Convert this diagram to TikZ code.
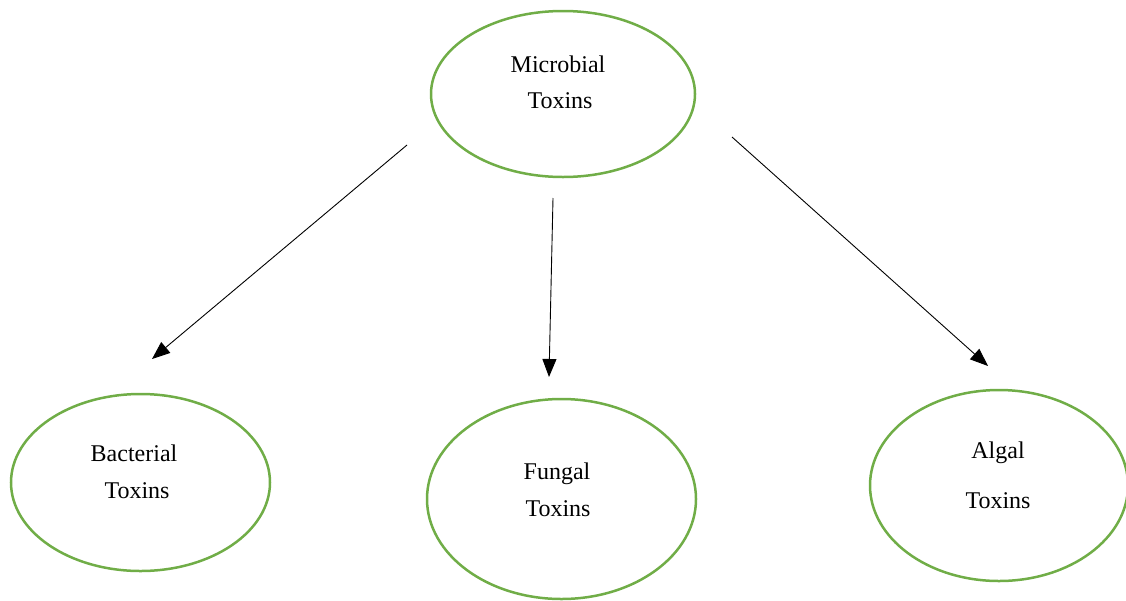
\documentclass[tikz,border=0pt]{standalone}
\usepackage{fontspec}
\setmainfont{Liberation Serif}
\usetikzlibrary{shapes.geometric,arrows.meta}
\definecolor{ellgreen}{HTML}{70AD47}
\begin{document}
\begin{tikzpicture}[x=1pt,y=-1pt,
  oval/.style={ellipse,draw=ellgreen,line width=2.5pt,inner sep=0pt},
  lbl/.style={anchor=base,inner sep=0pt,font=\fontsize{24}{29}\selectfont},
  arr/.style={line width=0.9pt,-{Triangle[length=18pt,width=14pt]}}]
\useasboundingbox (0,0) rectangle (1126,600);
\node[oval,minimum width=264pt,minimum height=166pt] (micro) at (563,94) {};
\node[oval,minimum width=259pt,minimum height=177pt] (bact) at (140.5,482.5) {};
\node[oval,minimum width=269pt,minimum height=200pt] (fung) at (561.5,499) {};
\node[oval,minimum width=258pt,minimum height=191pt] (alg) at (999,485.5) {};
\node[lbl] (t1) at (558,72) {Microbial};
\node[lbl] (t2) at (560,108) {Toxins};
\node[lbl] (t3) at (134,461) {Bacterial};
\node[lbl] (t4) at (137,498) {Toxins};
\node[lbl] (t5) at (557,479) {Fungal};
\node[lbl] (t6) at (558,516) {Toxins};
\node[lbl] (t7) at (998,458) {Algal};
\node[lbl] (t8) at (998,508) {Toxins};
\coordinate (a1s) at (407,145);
\coordinate (a1e) at (152,359);
\coordinate (a2s) at (553,198);
\coordinate (a2e) at (549,377);
\coordinate (a3s) at (732,137);
\coordinate (a3e) at (988,366);
\draw[arr] (a1s) -- (a1e);
\draw[arr] (a2s) -- (a2e);
\draw[arr] (a3s) -- (a3e);
\end{tikzpicture}
\end{document}
